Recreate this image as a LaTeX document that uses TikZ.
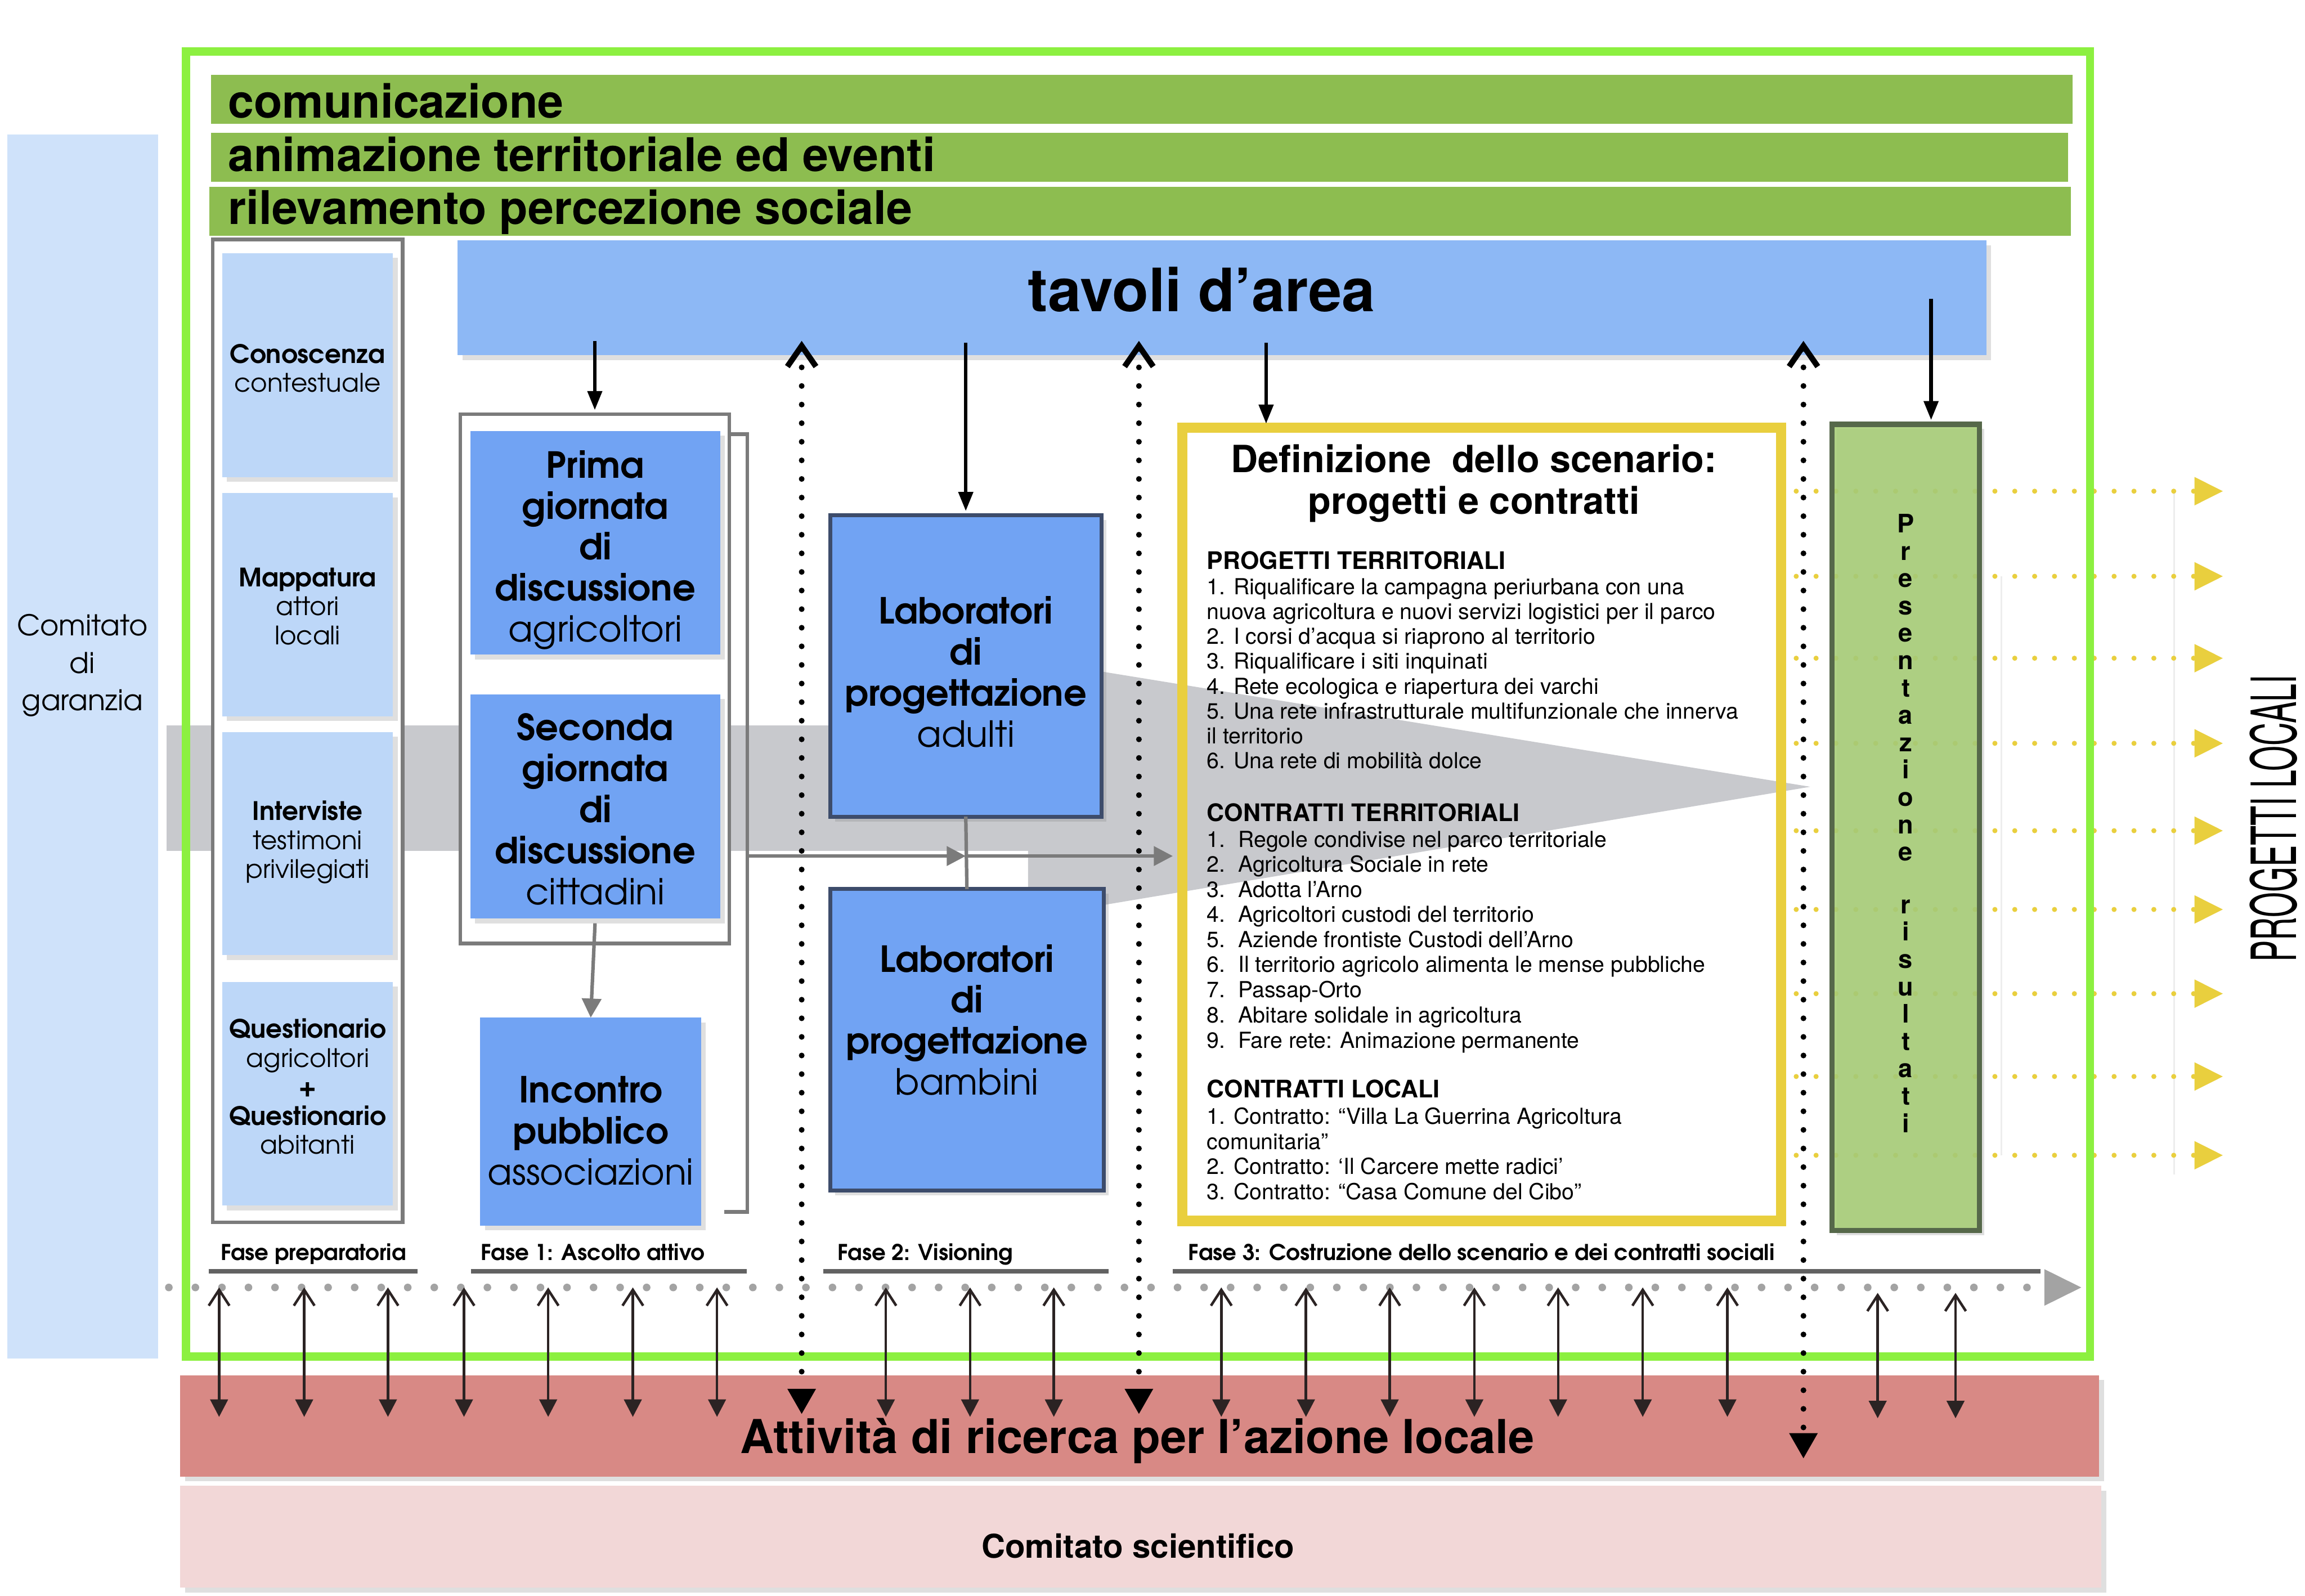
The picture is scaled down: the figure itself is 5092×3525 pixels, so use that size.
\documentclass[tikz,border=0pt]{standalone}
\usepackage{fontspec}
\setmainfont{TeX Gyre Heros}
\newfontfamily\gothic[Extension=.otf,UprightFont=*-regular,BoldFont=*-bold]{texgyreadventor}
\newfontfamily\slim[FakeStretch=0.52]{TeX Gyre Heros}
\usetikzlibrary{arrows.meta,positioning,calc,fit,shadows}
\definecolor{garanzia}{HTML}{CFE2FA}
\definecolor{barra}{HTML}{8DBD50}
\definecolor{cornice}{HTML}{8CF040}
\definecolor{tavoli}{HTML}{8DB8F5}
\definecolor{azzurro}{HTML}{BDD7F8}
\definecolor{blu}{HTML}{71A3F3}
\definecolor{blubordo}{HTML}{3D4C6B}
\definecolor{fascia}{HTML}{C8C9CD}
\definecolor{giallo}{HTML}{E9CF3E}
\definecolor{verde}{HTML}{A7CD76}
\definecolor{verdebordo}{HTML}{56684A}
\definecolor{ricerca}{HTML}{D88985}
\definecolor{rosa}{HTML}{F2D7D7}
\definecolor{grigio}{HTML}{7B7B7B}
\definecolor{freccia}{HTML}{2B2323}

\newcommand\voce[2]{\makebox[9.8pt][l]{#1.}#2}

\tikzset{
  box/.style={inner sep=0pt,outer sep=0pt,align=center},
  ombra/.style={drop shadow={shadow xshift=1.5pt,shadow yshift=-1.5pt,opacity=.25}},
  barra/.style={box,fill=barra},
  bartesto/.style={font=\bfseries\fontsize{14.6}{16}\selectfont,anchor=base west,inner sep=0pt},
  chiaro/.style={box,fill=azzurro,ombra},
  testochiaro/.style={align=center,inner sep=0pt,font=\gothic\fontsize{8}{9.1}\selectfont},
  blubox/.style={box,fill=blu,ombra},
  testoblu/.style={align=center,inner sep=0pt,font=\gothic\fontsize{11.3}{12.9}\selectfont},
  lab/.style={blubox,draw=blubordo,line width=1.2pt},
  cornicegrigia/.style={box,draw=grigio,line width=1.2pt,fill=white},
  fase/.style={font=\gothic\bfseries\fontsize{6.85}{7.5}\selectfont,anchor=base west,inner sep=0pt},
  sottolinea/.style={draw=grigio!80!black,line width=1.4pt},
  riga/.style={font=\fontsize{6.95}{7.8}\selectfont,anchor=base west,inner sep=0pt},
  titoletto/.style={font=\bfseries\fontsize{7.6}{8}\selectfont,anchor=base west,inner sep=0pt},
  giu/.style={line width=1.1pt,arrows={-Triangle[length=6pt,width=4.5pt]},shorten >=1.3pt},
  grigiofr/.style={grigio,line width=1.1pt,arrows={-Triangle[length=6pt,width=6pt]}},
  vert/.style={line width=1.8pt,line cap=round,dash pattern=on 0pt off 5.85pt,
    arrows={Straight Barb[length=6.5pt,width=9pt,line width=1.8pt]-Triangle[length=8pt,width=8.5pt]}},
  dbl/.style={freccia,line width=.8pt,
    arrows={Straight Barb[length=5pt,width=6.5pt,line width=.8pt]-Triangle[length=5.5pt,width=5.5pt]}},
  gialli/.style={giallo,line width=1.6pt,line cap=round,dash pattern=on 0pt off 6.25pt,
    arrows={-Triangle[length=9pt,width=8.5pt]}},
  asse/.style={grigio!70,line width=2.4pt,line cap=round,dash pattern=on 0pt off 8.35pt,
    arrows={-Triangle[length=11.8pt,width=10.8pt]}},
}

\begin{document}
\begin{tikzpicture}[x=0.005cm,y=-0.005cm]
\useasboundingbox (0,0) rectangle (5092,3525);
\fill[white] (0,0) rectangle (5092,3525);

% comitato di garanzia
\node[box,fill=garanzia,fit={(16,297)(349,3001)}] (garanzia) {};
\node[font=\gothic\fontsize{9}{11.8}\selectfont,align=center] (garanziatxt) at (182,1470) {Comitato\\di\\garanzia};

% fascia grigia
\fill[fascia] (368,1602) rectangle (2300,1880);
\fill[fascia] (2271,1457) -- (3999,1738) -- (2271,2027) -- cycle;

% barre verdi
\node[barra,fit={(466,165)(4579,274)}] (bar1) {};
\node[barra,fit={(466,293)(4569,402)}] (bar2) {};
\node[barra,fit={(462,413)(4575,521)}] (bar3) {};
\node[bartesto] (comunicazione) at (503,261) {comunicazione};
\node[bartesto] (animazione) at (503,379) {animazione territoriale ed eventi};
\node[bartesto] (rilevamento) at (503,495) {rilevamento percezione sociale};

% tavoli d'area
\node[box,fill=tavoli,ombra,fit={(1011,531)(4388,785)}] (tav) {};
\node[font=\bfseries\fontsize{18.8}{20}\selectfont,anchor=base,inner sep=0pt] (tavtxt) at (2654,688) {tavoli d’area};

% fase preparatoria
\node[cornicegrigia,fit={(470,529)(889,2700)}] (prep) {};
\foreach \ya/\yb/\dy/\nome/\testo in {
  559/1054/7/cono/{\textbf{Conoscenza}\\contestuale},
  1089/1582/4/mappa/{\textbf{Mappatura}\\attori\\locali},
  1617/2110/-3/interv/{\textbf{Interviste}\\testimoni\\privilegiati},
  2169/2663/-16/quest/{\textbf{Questionario}\\agricoltori\\\textbf{+}\\\textbf{Questionario}\\abitanti}}{
  \node[chiaro,fit={(491,\ya)(868,\yb)}] (\nome) {};
  \node[testochiaro] (\nome txt) at ($(\nome.center)+(0,\dy)$) {\testo};
}

% fase 1
\node[cornicegrigia,fit={(1017,915)(1611,2084)}] (fase1) {};
\draw[grigio,line width=1.2pt] (1611,959) -| (1651,2677) -- (1600,2677);
\coordinate (staffa) at (1651,1891);
\node[blubox,fit={(1039,952)(1591,1446)}] (prima) {};
\node[blubox,fit={(1039,1534)(1591,2029)}] (seconda) {};
\node[blubox,fit={(1061,2248)(1549,2707)}] (incontro) {};
\node[testoblu] (primatxt) at ($(prima.center)+(0,16)$)
  {\textbf{Prima}\\\textbf{giornata}\\\textbf{di}\\\textbf{discussione}\\agricoltori};
\node[testoblu] (secondatxt) at ($(seconda.center)+(0,6)$)
  {\textbf{Seconda}\\\textbf{giornata}\\\textbf{di}\\\textbf{discussione}\\cittadini};
\node[testoblu] (incontrotxt) at ($(incontro.center)+(0,20)$)
  {\textbf{Incontro}\\\textbf{pubblico}\\associazioni};
\draw[grigiofr,shorten <=1.5pt] (seconda.south) -- (incontro.north);

% fase 2
\node[lab,fit={(1834,1138)(2433,1804)}] (labA) {};
\node[lab,fit={(1834,1964)(2438,2630)}] (labB) {};
\node[testoblu] (labAtxt) at ($(labA.center)+(0,13)$)
  {\textbf{Laboratori}\\\textbf{di}\\\textbf{progettazione}\\adulti};
\node[testoblu] (labBtxt) at ($(labB.center)+(0,-44)$)
  {\textbf{Laboratori}\\\textbf{di}\\\textbf{progettazione}\\bambini};
\draw[grigio,line width=1.1pt] (labA.south) -- (labB.north);
\draw[grigiofr] (staffa) -- (labA.south |- staffa);
\draw[grigiofr,shorten >=3pt] (labA.south |- staffa) -- (2612,1891);

% fase 3: scenario
\node[box,draw=giallo,line width=3.2pt,fit={(2612,945)(3935,2697)}] (scenario) {};
\node[font=\bfseries\fontsize{11.8}{13}\selectfont,anchor=base,inner sep=0pt] (tit1) at (3256,1044) {Definizione\ \ dello scenario:};
\node[font=\bfseries\fontsize{11.8}{13}\selectfont,anchor=base,inner sep=0pt] (tit2) at (3256,1135) {progetti e contratti};
\node[titoletto] (pt) at (2665,1257) {PROGETTI TERRITORIALI};
\foreach \y/\testo in {
  1313/{1. Riqualificare la campagna periurbana con una},
  1368/{nuova agricoltura e nuovi servizi logistici per il parco},
  1423/{2. I corsi d’acqua si riaprono al territorio},
  1478/{3. Riqualificare i siti inquinati},
  1533/{4. Rete ecologica e riapertura dei varchi},
  1588/{5. Una rete infrastrutturale multifunzionale che innerva},
  1643/{il territorio},
  1698/{6. Una rete di mobilità dolce}}
  \node[riga] (p\y) at (2665,\y) {\testo};
\node[titoletto] (ct) at (2665,1814) {CONTRATTI TERRITORIALI};
\foreach \y/\testo in {
  1871/{\voce{1}{Regole condivise nel parco territoriale}},
  1926/{\voce{2}{Agricoltura Sociale in rete}},
  1982/{\voce{3}{Adotta l’Arno}},
  2037/{\voce{4}{Agricoltori custodi del territorio}},
  2093/{\voce{5}{Aziende frontiste Custodi dell’Arno}},
  2148/{\voce{6}{Il territorio agricolo alimenta le mense pubbliche}},
  2204/{\voce{7}{Passap-Orto}},
  2259/{\voce{8}{Abitare solidale in agricoltura}},
  2315/{\voce{9}{Fare rete: Animazione permanente}}}
  \node[riga] (c\y) at (2665,\y) {\testo};
\node[titoletto] (cl) at (2665,2425) {CONTRATTI LOCALI};
\foreach \y/\testo in {
  2483/{1. Contratto: “Villa La Guerrina Agricoltura},
  2539/{comunitaria”},
  2594/{2. Contratto: ‘Il Carcere mette radici’},
  2650/{3. Contratto: “Casa Comune del Cibo”}}
  \node[riga] (l\y) at (2665,\y) {\testo};

% progetti locali
\draw[black!7,line width=.6pt] (4421,1273) -- (4421,2552);
\draw[black!7,line width=.6pt] (4803,1085) -- (4803,2595);
\foreach \y in {1085,1273,1454,1642,1835,2009,2195,2378,2552}
  \draw[gialli] (3968,\y) -- (4911,\y);
\node[box,fill=verde,fill opacity=.88,draw=verdebordo,line width=1.7pt,ombra,fit={(4047,937)(4373,2718)}] (pres) {};
\node[align=center,inner sep=0pt,font=\bfseries\fontsize{8}{8.6}\selectfont] (prestxt) at ($(pres.center)+(0,-9)$)
  {P\\r\\e\\s\\e\\n\\t\\a\\z\\i\\o\\n\\e\\[8pt]r\\i\\s\\u\\l\\t\\a\\t\\i};
\node[font=\slim\fontsize{19.6}{20}\selectfont,rotate=90,inner sep=0pt] (locali) at (5022,1808) {PROGETTI LOCALI};

% cornice verde
\node[box,draw=cornice,line width=2.6pt,fit={(411,114)(4617,2997)}] (cornice) {};

% ricerca e comitato scientifico
\node[box,fill=ricerca,ombra,fit={(398,3038)(4637,3262)}] (ricerca) {};
\node[box,fill=rosa,ombra,fit={(398,3282)(4642,3507)}] (scientifico) {};
\node[font=\bfseries\fontsize{14.7}{16}\selectfont,anchor=base,inner sep=0pt] (ricercatxt) at (2513,3211) {Attività di ricerca per l’azione locale};
\node[font=\bfseries\fontsize{10.3}{12}\selectfont,anchor=base,inner sep=0pt] (scientificotxt) at (2514,3442) {Comitato scientifico};

% fasi
\node[fase] (f0) at (486,2784) {Fase preparatoria};
\node[fase] (f1) at (1061,2784) {Fase 1: Ascolto attivo};
\node[fase] (f2) at (1849,2784) {Fase 2: Visioning};
\node[fase] (f3) at (2624,2784) {Fase 3: Costruzione dello scenario e dei contratti sociali};
\foreach \xa/\xb in {461/922,1040/1650,1819/2449,2591/4508}
  \draw[sottolinea] (\xa,2808) -- (\xb,2808);
\coordinate (asse) at (373,2844);
\draw[asse] (asse) -- (4599,2844);

% frecce dai tavoli
\draw[giu] ($(tav.south -| fase1.north)+(0,-32)$) -- (fase1.north);
\draw[giu] ($(tav.south -| labA.north)+(0,-28)$) -- (labA.north);
\draw[giu] ($(tav.south -| 2797,0)+(0,-28)$) -- (scenario.north -| 2797,0);
\draw[giu] ($(tav.south -| 4266,0)+(0,-125)$) -- (pres.north -| 4266,0);
\foreach \x/\fine in {1771/86,2516/86,3984/184}
  \draw[vert] ($(tav.south -| \x,0)+(0,-32)$) -- ($(ricerca.north -| \x,0)+(0,\fine)$);

% frecce verso la ricerca
\foreach \x in {484,672,857,1025,1211,1398,1584,1957,2143,2328,2698,2885,3070,3257,3442,3629,3816}
  \draw[dbl] (asse -| \x,0) -- ($(ricerca.north -| \x,0)+(0,92)$);
\foreach \x in {4148,4320}
  \draw[dbl] ($(asse -| \x,0)+(0,12)$) -- ($(ricerca.north -| \x,0)+(0,95)$);
\end{tikzpicture}
\end{document}
